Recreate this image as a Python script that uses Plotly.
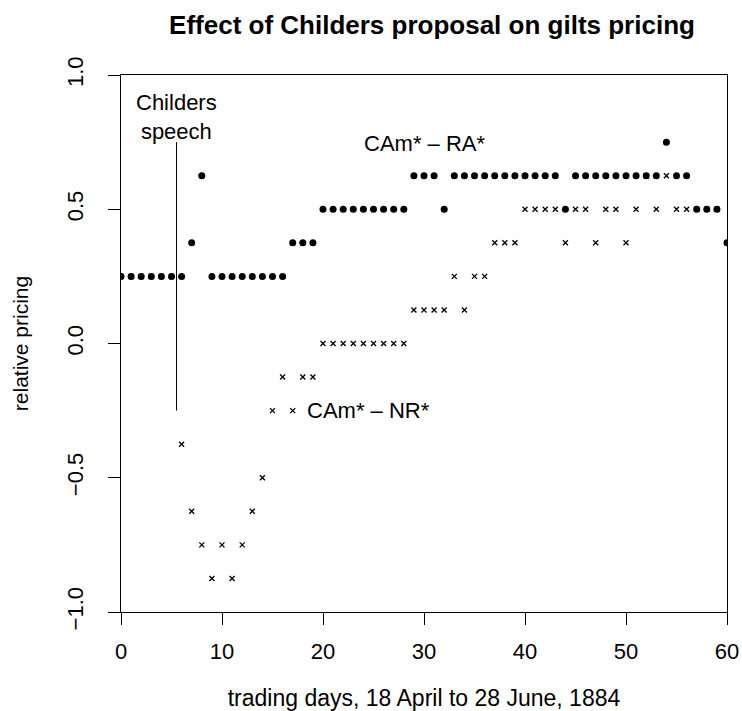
import plotly.graph_objects as go

# ---- data ----
days = list(range(0, 61))

# CAm* - RA*  (dots)
cam_ra = [0.25, 0.25, 0.25, 0.25, 0.25, 0.25, 0.25,          # 0-6
          0.375, 0.625,                                       # 7-8
          0.25, 0.25, 0.25, 0.25, 0.25, 0.25, 0.25, 0.25,     # 9-16
          0.375, 0.375, 0.375,                                # 17-19
          0.5, 0.5, 0.5, 0.5, 0.5, 0.5, 0.5, 0.5, 0.5,        # 20-28
          0.625, 0.625, 0.625,                                # 29-31
          0.5,                                                # 32
          0.625, 0.625, 0.625, 0.625, 0.625, 0.625, 0.625,    # 33-39
          0.625, 0.625, 0.625, 0.625,                         # 40-43
          0.5,                                                # 44
          0.625, 0.625, 0.625, 0.625, 0.625, 0.625, 0.625, 0.625, 0.625,  # 45-53
          0.75,                                               # 54
          0.625, 0.625,                                       # 55-56
          0.5, 0.5, 0.5,                                      # 57-59
          0.375]                                              # 60

# CAm* - NR*  (crosses)
cam_nr = [0.25, 0.25, 0.25, 0.25, 0.25, 0.25,                # 0-5
          -0.375, -0.625, -0.75, -0.875, -0.75, -0.875,       # 6-11
          -0.75, -0.625, -0.5, -0.25, -0.125, -0.25,          # 12-17
          -0.125, -0.125,                                     # 18-19
          0.0, 0.0, 0.0, 0.0, 0.0, 0.0, 0.0, 0.0, 0.0,        # 20-28
          0.125, 0.125, 0.125, 0.125,                         # 29-32
          0.25, 0.125, 0.25, 0.25,                            # 33-36
          0.375, 0.375, 0.375,                                # 37-39
          0.5, 0.5, 0.5, 0.5,                                 # 40-43
          0.375, 0.5, 0.5, 0.375, 0.5, 0.5, 0.375,            # 44-50
          0.5, 0.625, 0.5, 0.625,                             # 51-54
          0.5, 0.5, 0.5, 0.5, 0.5,                            # 55-59
          0.375]                                              # 60

speech_day = [5.5, 5.5]
speech_span = [-0.25, 0.75]

x_ticks = [0, 10, 20, 30, 40, 50, 60]
y_ticks = [-1.0, -0.5, 0.0, 0.5, 1.0]
y_tick_text = ["\u22121.0", "\u22120.5", "0.0", "0.5", "1.0"]

FONT = "Liberation Sans, Arial, Helvetica, sans-serif"

fig = go.Figure()

fig.add_trace(go.Scatter(
    x=days, y=cam_nr, mode="markers", name="CAm* - NR*",
    marker=dict(symbol="x-thin-open", size=5, color="black",
                line=dict(color="black", width=1.3)),
    showlegend=False))

fig.add_trace(go.Scatter(
    x=days, y=cam_ra, mode="markers", name="CAm* - RA*",
    marker=dict(symbol="circle", size=7, color="black"),
    showlegend=False))

fig.add_trace(go.Scatter(
    x=speech_day, y=speech_span, mode="lines",
    line=dict(color="black", width=1), showlegend=False, hoverinfo="skip"))

fig.add_annotation(x=5.5, y=0.845, xref="x", yref="y",
                   text="Childers<br>speech", showarrow=False,
                   font=dict(family=FONT, size=22, color="black"),
                   xanchor="center", yanchor="middle")
fig.add_annotation(x=30, y=0.745, xref="x", yref="y",
                   text="CAm* \u2013 RA*", showarrow=False,
                   font=dict(family=FONT, size=22, color="black"),
                   xanchor="center", yanchor="middle")
fig.add_annotation(x=24.55, y=-0.25, xref="x", yref="y",
                   text="CAm* \u2013 NR*", showarrow=False,
                   font=dict(family=FONT, size=22, color="black"),
                   xanchor="center", yanchor="middle")

fig.update_layout(
    width=742, height=711,
    margin=dict(l=121, r=15, t=75, b=99, autoexpand=False),
    paper_bgcolor="white", plot_bgcolor="white",
    font=dict(family=FONT, color="black"),
    title=dict(text="<b>Effect of Childers proposal on gilts pricing</b>",
               x=432 / 742, xanchor="center",
               y=1 - 25 / 711, yanchor="middle",
               font=dict(family=FONT, size=26, color="black")),
)

fig.update_xaxes(
    range=[0, 60], tickvals=x_ticks, ticktext=[str(v) for v in x_ticks],
    showgrid=False, zeroline=False, automargin=False,
    showline=True, linecolor="black", linewidth=1, mirror=True,
    ticks="outside", ticklen=12, tickcolor="black", tickwidth=1,
    tickfont=dict(family=FONT, size=22, color="black"),
    ticklabelstandoff=8,
    title=dict(text="trading days, 18 April to 28 June, 1884",
               font=dict(family=FONT, size=23, color="black"), standoff=31),
)

fig.update_yaxes(
    range=[-1, 1], tickvals=y_ticks, ticktext=y_tick_text,
    showgrid=False, zeroline=False, automargin=False,
    showline=True, linecolor="black", linewidth=1, mirror=True,
    ticks="outside", ticklen=12, tickcolor="black", tickwidth=1,
    tickangle=-90,
    tickfont=dict(family=FONT, size=22, color="black"),
    ticklabelstandoff=16,
    title=dict(text="relative pricing",
               font=dict(family=FONT, size=21, color="black"), standoff=28),
)

fig.write_html(
    "out.html",
    config={"displayModeBar": False},
    post_script="document.body.style.margin='0';"
                "document.body.style.overflow='hidden';",
)
